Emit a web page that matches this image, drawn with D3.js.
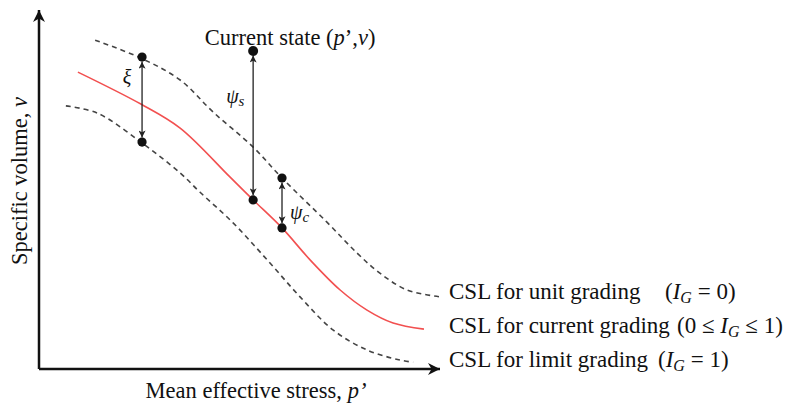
<!DOCTYPE html>
<html>
<head>
<meta charset="utf-8">
<script src="https://cdn.jsdelivr.net/npm/d3@7"></script>
<style>
  body { margin: 0; background: #fff; }
  text { font-family: "Liberation Serif", "Times New Roman", serif; fill: #111; }
</style>
</head>
<body>
<script>
// critical state lines: [log p', v] in arbitrary units
var unitGradingCSL = [[1.40, 9.16], [2.54, 8.66], [3.52, 8.05], [4.34, 7.16], [5.34, 6.18],
  [6.06, 5.32], [7.18, 4.09], [7.93, 3.23], [8.50, 2.67], [9.18, 2.20], [10.0, 2.01]];
var currentGradingCSL = [[0.97, 8.27], [2.54, 7.38], [3.52, 6.71], [4.76, 5.35], [5.34, 4.71],
  [6.06, 3.93], [6.76, 3.04], [7.51, 2.20], [8.18, 1.64], [8.83, 1.28], [9.60, 1.11]];
var limitGradingCSL = [[0.67, 7.33], [1.45, 7.13], [2.54, 6.32], [3.52, 5.46], [4.01, 4.93],
  [4.84, 4.07], [5.69, 3.04], [6.51, 2.01], [7.33, 1.09], [8.18, 0.53], [9.00, 0.25], [9.33, 0.19]];

var currentState = [5.34, 8.86];
// double arrows: p, v from, v to
var xiArrow = [2.57, 8.69, 6.32];
var psiSArrow = [5.34, 8.86, 4.71];
var psiCArrow = [6.06, 5.32, 3.93];

var cslLabels = ["CSL for unit grading", "CSL for current grading", "CSL for limit grading"];
var cslConditions = [["(", "I", "G", " = 0)"], ["(0 \u2264 ", "I", "G", " \u2264 1)"], ["(", "I", "G", " = 1)"]];

var width = 785, height = 407;

var svg = d3.select("body").append("svg")
  .attr("width", width)
  .attr("height", height);

var x = d3.scaleLinear().domain([0, 10]).range([39, 440]);
var y = d3.scaleLinear().domain([0, 10]).range([369, 10]);

var defs = svg.append("defs");
defs.append("marker")
  .attr("id", "axisHead")
  .attr("viewBox", "0 0 10 10")
  .attr("refX", 10).attr("refY", 5)
  .attr("markerUnits", "userSpaceOnUse")
  .attr("markerWidth", 14).attr("markerHeight", 12)
  .attr("orient", "auto")
  .append("path")
  .attr("d", "M0,0L10,5L0,10L3,5Z")
  .attr("fill", "#111");

defs.append("marker")
  .attr("id", "smallHead")
  .attr("viewBox", "0 0 10 10")
  .attr("refX", 10).attr("refY", 5)
  .attr("markerUnits", "userSpaceOnUse")
  .attr("markerWidth", 8).attr("markerHeight", 7)
  .attr("orient", "auto-start-reverse")
  .append("path")
  .attr("d", "M0,0L10,5L0,10L2.5,5Z")
  .attr("fill", "#222");

// axes
svg.append("line")
  .attr("x1", x(0)).attr("y1", y(0))
  .attr("x2", x(0)).attr("y2", y(10))
  .attr("stroke", "#111").attr("stroke-width", 2.5)
  .attr("marker-end", "url(#axisHead)");
svg.append("line")
  .attr("x1", x(0)).attr("y1", y(0))
  .attr("x2", x(10)).attr("y2", y(0))
  .attr("stroke", "#111").attr("stroke-width", 2.5)
  .attr("marker-end", "url(#axisHead)");

svg.append("text")
  .attr("x", 256).attr("y", 398)
  .attr("text-anchor", "middle")
  .attr("font-size", 22.5)
  .text("Mean effective stress, ")
  .append("tspan").attr("font-style", "italic").text("p\u2019");

svg.append("text")
  .attr("transform", "translate(27,181) rotate(-90)")
  .attr("text-anchor", "middle")
  .attr("font-size", 22.5)
  .text("Specific volume, ")
  .append("tspan").attr("font-style", "italic").text("v");

// curves
var line = d3.line()
  .x(d => x(d[0]))
  .y(d => y(d[1]))
  .curve(d3.curveCatmullRom.alpha(0.5));

svg.append("path").datum(unitGradingCSL)
  .attr("d", line).attr("fill", "none")
  .attr("stroke", "#444").attr("stroke-width", 1.6).attr("stroke-dasharray", "5,4");
svg.append("path").datum(limitGradingCSL)
  .attr("d", line).attr("fill", "none")
  .attr("stroke", "#444").attr("stroke-width", 1.6).attr("stroke-dasharray", "5,4");
svg.append("path").datum(currentGradingCSL)
  .attr("d", line).attr("fill", "none")
  .attr("stroke", "#f25050").attr("stroke-width", 1.6);

// double headed arrows between points
var r = 4.6;
[xiArrow, psiSArrow, psiCArrow].forEach(a => {
  svg.append("line")
    .attr("x1", x(a[0])).attr("y1", y(a[1]) + r)
    .attr("x2", x(a[0])).attr("y2", y(a[2]) - r)
    .attr("stroke", "#222").attr("stroke-width", 1.3)
    .attr("marker-start", "url(#smallHead)")
    .attr("marker-end", "url(#smallHead)");
});

var dots = [currentState, [xiArrow[0], xiArrow[1]], [xiArrow[0], xiArrow[2]],
  [psiSArrow[0], psiSArrow[2]], [psiCArrow[0], psiCArrow[1]], [psiCArrow[0], psiCArrow[2]]];
svg.append("g").selectAll("circle")
  .data(dots)
  .join("circle")
  .attr("cx", d => x(d[0]))
  .attr("cy", d => y(d[1]))
  .attr("r", (d, i) => i == 0 ? 5 : r)
  .attr("fill", "#111");

// annotations
var cs = svg.append("text")
  .attr("x", x(currentState[0]) + 37).attr("y", 45)
  .attr("text-anchor", "middle")
  .attr("font-size", 22.5);
cs.append("tspan").text("Current state (");
cs.append("tspan").attr("font-style", "italic").text("p");
cs.append("tspan").text("\u2019,");
cs.append("tspan").attr("font-style", "italic").text("v");
cs.append("tspan").text(")");

svg.append("text")
  .attr("x", x(xiArrow[0]) - 15).attr("y", 84)
  .attr("text-anchor", "middle")
  .attr("font-size", 20).attr("font-style", "italic")
  .text("\u03be");

var ps = svg.append("text")
  .attr("x", x(psiSArrow[0]) - 27).attr("y", 103)
  .attr("font-size", 20).attr("font-style", "italic");
ps.append("tspan").text("\u03c8");
ps.append("tspan").attr("font-size", 15).attr("dy", 3).text("s");

var pc = svg.append("text")
  .attr("x", x(psiCArrow[0]) + 8).attr("y", 219)
  .attr("font-size", 20).attr("font-style", "italic");
pc.append("tspan").text("\u03c8");
pc.append("tspan").attr("font-size", 15).attr("dy", 3).text("c");

// line labels
var baselines = [299, 333, 367];
var condX = [665, 677, 658];
cslLabels.forEach((label, i) => {
  var t = svg.append("text")
    .attr("x", 449).attr("y", baselines[i])
    .attr("font-size", 23);
  t.append("tspan").text(label);
  var c = cslConditions[i];
  t.append("tspan").attr("x", condX[i]).text(c[0]);
  t.append("tspan").attr("font-style", "italic").text(c[1]);
  t.append("tspan").attr("font-style", "italic").attr("font-size", 16).attr("dy", 4).text(c[2]);
  t.append("tspan").attr("dy", -4).text(c[3]);
});
</script>
</body>
</html>
